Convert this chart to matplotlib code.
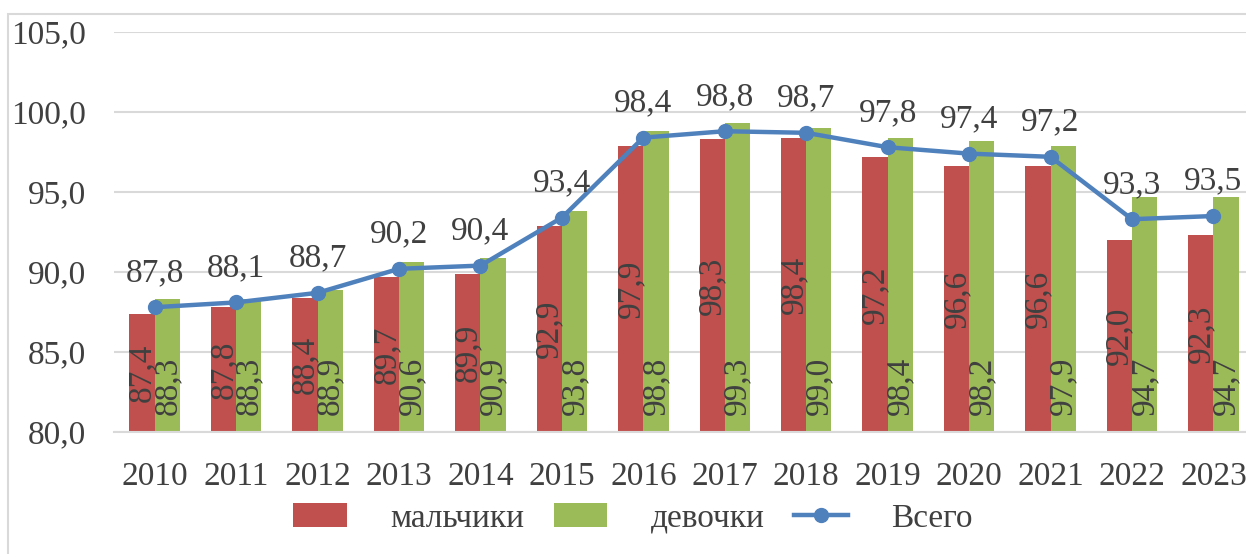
import numpy as np
import matplotlib.pyplot as plt
from matplotlib.patches import Rectangle

years = ['2010', '2011', '2012', '2013', '2014', '2015', '2016',
         '2017', '2018', '2019', '2020', '2021', '2022', '2023']
boys = [87.4, 87.8, 88.4, 89.7, 89.9, 92.9, 97.9, 98.3, 98.4, 97.2, 96.6, 96.6, 92.0, 92.3]
girls = [88.3, 88.3, 88.9, 90.6, 90.9, 93.8, 98.8, 99.3, 99.0, 98.4, 98.2, 97.9, 94.7, 94.7]
total = [87.8, 88.1, 88.7, 90.2, 90.4, 93.4, 98.4, 98.8, 98.7, 97.8, 97.4, 97.2, 93.3, 93.5]
yticks = [80, 85, 90, 95, 100, 105]

RED = '#C0504D'
GREEN = '#9BBB59'
BLUE = '#4F81BD'
TXT = '#404040'
GRID = '#D9D9D9'
FS = 24


def fmt(v):
    return '{:.1f}'.format(v).replace('.', ',')


plt.rcParams['font.family'] = ['Liberation Serif', 'DejaVu Serif']

fig = plt.figure(figsize=(12.46, 5.54), dpi=100)
ax = fig.add_axes([0.0915, 0.2202, 0.915, 0.722])

x = np.arange(len(years))
w = 0.31
b1 = ax.bar(x - w / 2, np.array(boys) - 80, w, bottom=80, color=RED, label='мальчики', zorder=2)
b2 = ax.bar(x + w / 2, np.array(girls) - 80, w, bottom=80, color=GREEN, label='девочки', zorder=2)
ln, = ax.plot(x, total, color=BLUE, lw=3.2, marker='o', ms=10, label='Всего', zorder=4)

for i in range(len(years)):
    ax.text(x[i] - w / 2, (boys[i] + 80) / 2, fmt(boys[i]), rotation=90,
            ha='center', va='center', fontsize=FS, color=TXT, zorder=5)
    ax.annotate(fmt(girls[i]), (x[i] + w / 2, 80), xytext=(0, 12),
                textcoords='offset points', rotation=90, ha='center', va='bottom',
                fontsize=FS, color=TXT, zorder=5)
    ax.annotate(fmt(total[i]), (x[i], total[i]), xytext=(0, 19),
                textcoords='offset points', ha='center', va='baseline',
                fontsize=FS, color=TXT, zorder=5)

ax.set_xlim(-0.5, 13.5)
ax.set_ylim(80, 105)
ax.set_yticks(yticks)
ax.set_yticklabels([fmt(v) for v in yticks], fontsize=FS, color=TXT)
ax.set_xticks(x)
ax.set_xticklabels(years, fontsize=FS, color=TXT)
ax.tick_params(length=0)
ax.tick_params(axis='x', pad=21)
ax.tick_params(axis='y', pad=20)
ax.yaxis.grid(True, color=GRID, lw=1.5, zorder=0)
ax.set_axisbelow(True)
for s in ['top', 'right', 'left']:
    ax.spines[s].set_visible(False)
ax.spines['bottom'].set_color(GRID)
ax.spines['bottom'].set_linewidth(1.5)

fig.legend([b1, b2, ln], ['мальчики', 'девочки', 'Всего'],
           loc='center', bbox_to_anchor=(0.508, 0.064), ncol=3, frameon=False,
           fontsize=FS, handlelength=1.6, handletextpad=1.3, columnspacing=0.9,
           labelcolor=TXT)

fig.patches.append(Rectangle((8 / 1246, -0.01), 1.1, 1 - 14 / 554 + 0.01,
                             transform=fig.transFigure, fill=False,
                             edgecolor=GRID, lw=1.5))

fig.savefig('out.png', dpi=100)
